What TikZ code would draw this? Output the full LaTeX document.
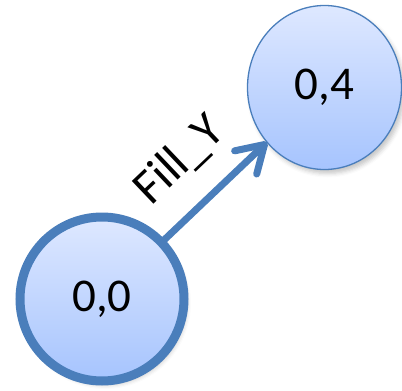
\documentclass[tikz,border=0pt]{standalone}
\usepackage{fontspec}
\setmainfont{Carlito}
\usetikzlibrary{shapes.geometric,arrows.meta,shadows.blur}

\definecolor{edgeblue}{HTML}{4A7EBB}
\definecolor{filltop}{HTML}{DEE8FF}
\definecolor{fillbottom}{HTML}{A6C4FE}

\tikzset{
  state/.style={inner sep=0pt, outer sep=0pt, draw=edgeblue,
    top color=filltop, bottom color=fillbottom,
    font=\fontsize{47}{50}\selectfont,
    blur shadow={shadow xshift=3pt, shadow yshift=-4pt,
      shadow blur radius=4pt, shadow opacity=22}},
  startstate/.style={state, circle, minimum size=164pt, line width=9pt},
  otherstate/.style={state, ellipse, minimum width=154pt,
    minimum height=164pt, line width=1.3pt},
  move/.style={draw=edgeblue, line width=7pt, line cap=round,
    line join=round,
    -{Straight Barb[length=26pt, width=32pt, line cap=round, line join=round]}},
  movelabel/.style={font=\fontsize{49}{52}\selectfont, sloped,
    anchor=south, text depth=0pt, inner xsep=0pt, inner ysep=30pt}
}

\begin{document}
\begin{tikzpicture}[x=1pt, y=-1pt]
  \useasboundingbox (0,0) rectangle (402,391);

  \node[startstate] (s00) at (102,299) {0,0};
  \node[otherstate] (s04) at (324.5,87.5) {0,4};

  \draw[move] (s00) -- (s04)
    node[movelabel, pos=0.48] (fill) {Fill\_Y};
\end{tikzpicture}
\end{document}
